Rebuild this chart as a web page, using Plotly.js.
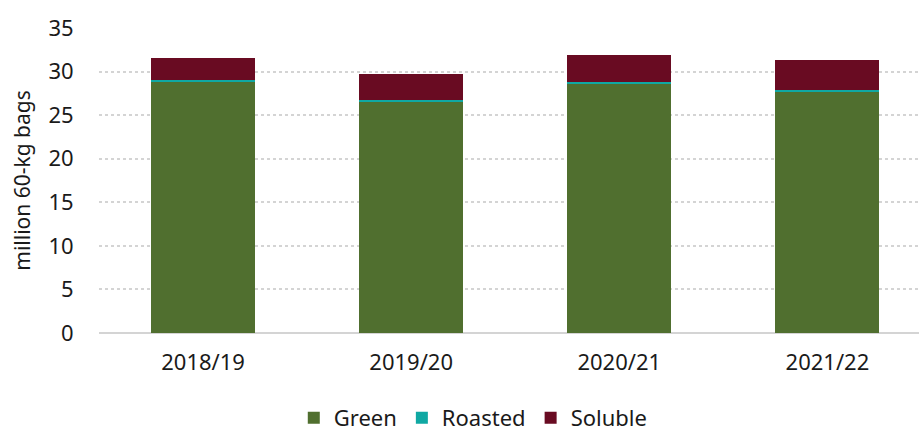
<!DOCTYPE html>
<html><head><meta charset="utf-8">
<script src="https://cdn.plot.ly/plotly-3.0.1.min.js"></script>
<style>html,body{margin:0;padding:0;background:#fff}#c{width:919px;height:431px}</style>
</head><body><div id="c"></div>
<script>
const categories = ["2018/19", "2019/20", "2020/21", "2021/22"];
const green = [28.8, 26.5, 28.6, 27.6];
const roasted = [0.22, 0.22, 0.25, 0.25];
const soluble = [2.55, 3.05, 3.0, 3.45];
const seriesNames = ["Green", "Roasted", "Soluble"];
const yTicks = [0, 5, 10, 15, 20, 25, 30, 35];

const colors = ["#506F2F", "#10A8A3", "#690B22"];
const font = "'Noto Sans', 'Open Sans', sans-serif";
const traces = [green, roasted, soluble].map((vals, i) => ({
  type: "bar", name: seriesNames[i], x: categories, y: vals,
  marker: {color: colors[i], line: {width: 0}},
  hoverinfo: "skip"
}));

const layout = {
  width: 919, height: 431,
  margin: {l: 99, r: 0, t: 28, b: 98},
  barmode: "stack", bargap: 0.5,
  paper_bgcolor: "#fff", plot_bgcolor: "#fff",
  font: {family: font, size: 22, color: "#1a1a1a"},
  xaxis: {
    type: "category", range: [-0.5, 3.44],
    showgrid: false, showline: false, zeroline: false,
    ticks: "outside", ticklen: 10, tickcolor: "rgba(0,0,0,0)",
    tickfont: {size: 22, color: "#1a1a1a"}
  },
  yaxis: {
    range: [0, 35], tickvals: yTicks, ticktext: yTicks.map(String),
    showgrid: true, gridcolor: "#d4d4d4", gridwidth: 2, griddash: "dot",
    zeroline: true, zerolinecolor: "#d4d4d4", zerolinewidth: 1.5,
    showline: false,
    ticks: "outside", ticklen: 20, tickcolor: "rgba(0,0,0,0)",
    tickfont: {size: 22, color: "#1a1a1a"},
    title: {text: "million 60-kg bags", font: {size: 21, color: "#1a1a1a"}, standoff: 12}
  },
  legend: {
    orientation: "h", xref: "container", yref: "container",
    x: 0.515, xanchor: "center", y: 0.03, yanchor: "middle",
    font: {size: 22, color: "#1a1a1a"}, traceorder: "normal",
    itemwidth: 30, tracegroupgap: 0
  },
  showlegend: true
};
Plotly.newPlot("c", traces, layout, {staticPlot: true, displayModeBar: false});
</script></body></html>
